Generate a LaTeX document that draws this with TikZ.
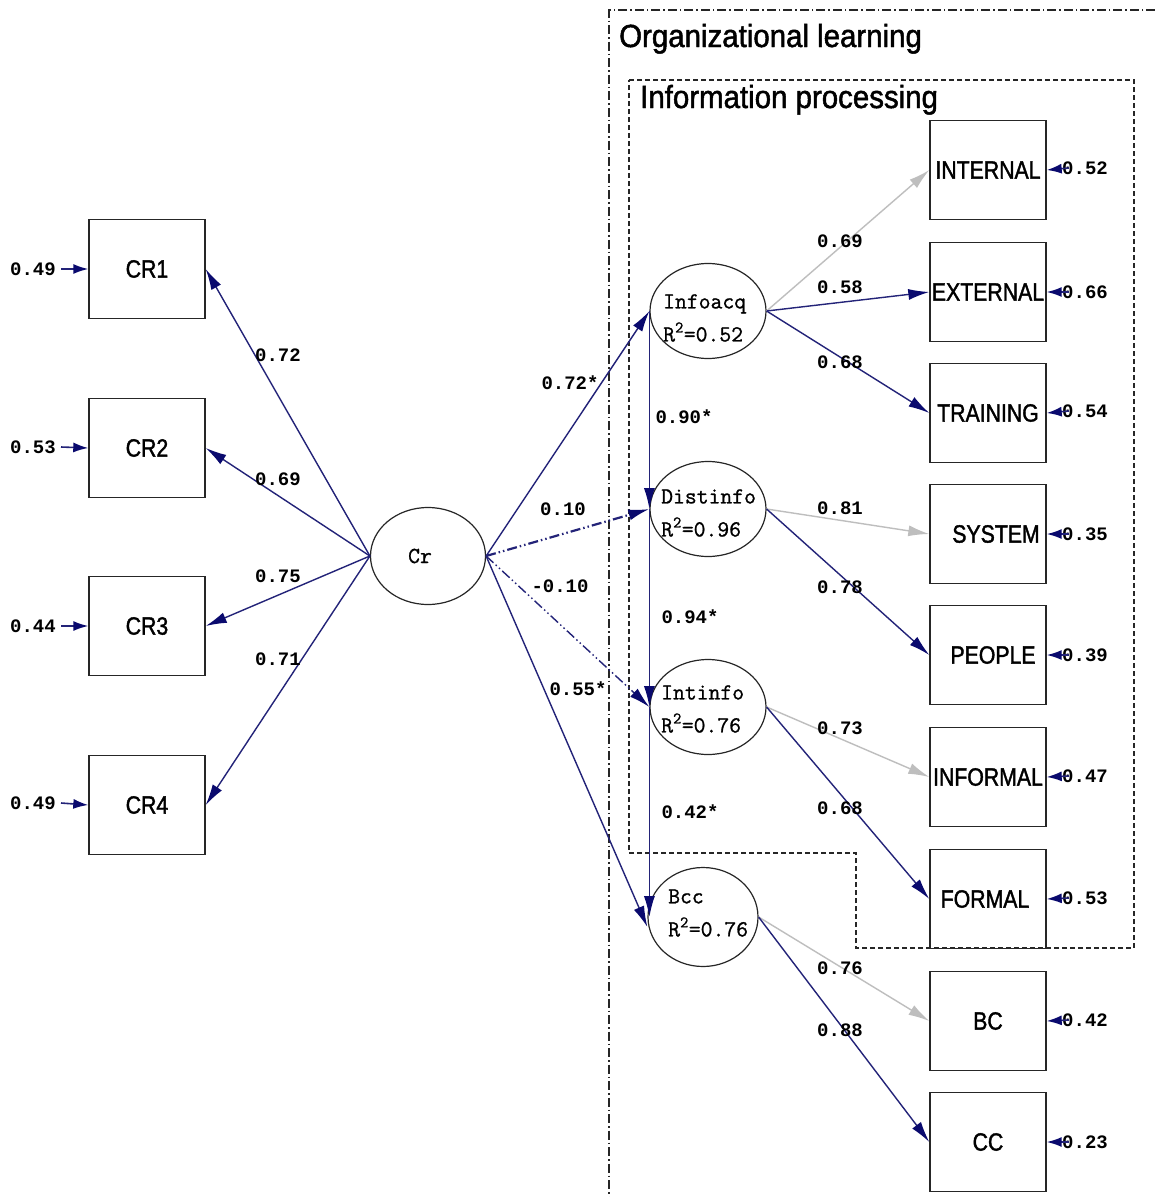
\documentclass[tikz,border=0pt]{standalone}
\usepackage{fontspec}
\newfontfamily\boxfont[FakeStretch=0.85,FakeBold=1.5]{Liberation Sans}
\newfontfamily\titlefont[FakeStretch=0.92,FakeBold=1.5]{Liberation Sans}
\newfontfamily\numfont{Liberation Mono}
\newfontfamily\elfont[FakeBold=1]{Latin Modern Mono}
\usetikzlibrary{shapes.geometric,arrows.meta}
\definecolor{navyln}{RGB}{35,35,120}
\definecolor{navytip}{RGB}{10,10,110}
\definecolor{grayln}{RGB}{190,190,190}
\tikzset{
  obs/.style={draw=black!85, line width=1.4pt, minimum width=116pt, minimum height=99pt, inner sep=0pt, font=\boxfont\fontsize{25}{30}\selectfont},
  lat/.style={draw=black!85, line width=1.2pt, ellipse, minimum width=116pt, minimum height=95pt, inner sep=0pt},
  eltxt/.style={font=\elfont\fontsize{23}{33}\selectfont, align=left, inner sep=0pt, anchor=west},
  num/.style={font=\numfont\bfseries\fontsize{19}{20}\selectfont, inner sep=1pt},
  navyarr/.style={navyln, line width=1.4pt, -{Latex[length=21pt,width=11pt,color=navytip]}},
  grayarr/.style={grayln, line width=1.4pt, -{Latex[length=21pt,width=11pt]}},
  errarr/.style={navyln, line width=1.6pt, -{Latex[length=15pt,width=10pt,color=navytip]}},
  dddash/.style={dash pattern=on 10pt off 3pt on 1.5pt off 3pt on 1.5pt off 3pt},
}
\begin{document}
\begin{tikzpicture}[x=1pt,y=-1pt]
\useasboundingbox (0,0) rectangle (1155,1197);
\fill[white] (0,0) rectangle (1155,1197);

% group frames
\draw[black!85, line width=1.1pt, dash pattern=on 9pt off 3pt on 1.5pt off 3pt] (1155,10) -- (609,10) -- (609,1197);
\draw[black!85, line width=1.1pt, dash pattern=on 5pt off 3pt] (629,80) -- (1134,80) -- (1134,948) -- (856,948) -- (856,853) -- (629,853) -- cycle;
\node[font=\titlefont\fontsize{32}{36}\selectfont, anchor=base west, inner sep=0pt] (tol) at (619,47) {Organizational learning};
\node[font=\titlefont\fontsize{32}{36}\selectfont, anchor=base west, inner sep=0pt] (tip) at (640,108) {Information processing};

% left observed
\node[obs] (cr1) at (147,269) {CR1};
\node[obs] (cr2) at (147,448) {CR2};
\node[obs] (cr3) at (147,626) {CR3};
\node[obs] (cr4) at (147,805) {CR4};

% latents
\node[lat, minimum width=115pt, minimum height=97pt] (cr) at (428,556) {};
\node[font=\elfont\fontsize{23}{26}\selectfont, inner sep=0pt] (crt) at (420,556) {Cr};
\node[lat] (ia) at (708,311) {};
\node[lat] (di) at (708,509) {};
\node[lat] (ii) at (708,707) {};
\node[lat, minimum width=110pt, minimum height=99pt] (bc) at (703,917) {};
\node[eltxt] (iat) at (663,318) {Infoacq\\R\textsuperscript{2}=0.52};
\node[eltxt] (dit) at (661,513) {Distinfo\\R\textsuperscript{2}=0.96};
\node[eltxt] (iit) at (661,709) {Intinfo\\R\textsuperscript{2}=0.76};
\node[eltxt] (bct) at (668,913) {Bcc\\R\textsuperscript{2}=0.76};

% right observed
\node[obs] (int) at (988,170) {INTERNAL};
\node[obs] (ext) at (988,292) {EXTERNAL};
\node[obs] (trn) at (988,413) {TRAINING};
\node[obs] (sys) at (988,534) {\hspace*{16pt}SYSTEM};
\node[obs] (peo) at (988,655) {\hspace*{10pt}PEOPLE};
\node[obs] (inf) at (988,777) {INFORMAL};
\node[obs] (frm) at (988,899) {\hspace*{-6pt}FORMAL};
\node[obs] (bcb) at (988,1021) {BC};
\node[obs] (ccb) at (988,1142) {CC};

% Cr to CR indicators
\draw[navyarr] (cr.west) -- (cr1.east);
\draw[navyarr] (cr.west) -- (cr2.east);
\draw[navyarr] (cr.west) -- (cr3.east);
\draw[navyarr] (cr.west) -- (cr4.east);
\node[num] (l1) at (278,355) {0.72};
\node[num] (l2) at (278,479) {0.69};
\node[num] (l3) at (278,576) {0.75};
\node[num] (l4) at (278,659) {0.71};

% left errors
\node[num] (e1) at (33,269) {0.49};
\node[num] (e2) at (33,447) {0.53};
\node[num] (e3) at (33,626) {0.44};
\node[num] (e4) at (33,803) {0.49};
\draw[errarr] ([xshift=4pt]e1.east) -- (cr1.west);
\draw[errarr] ([xshift=4pt]e2.east) -- (cr2.west);
\draw[errarr] ([xshift=4pt]e3.east) -- (cr3.west);
\draw[errarr] ([xshift=4pt]e4.east) -- (cr4.west);

% structural paths
\draw[navyarr] (cr.east) -- (ia.west);
\draw[navyarr, line width=2.2pt, dddash] (cr.east) -- (di.west);
\draw[navyarr, dddash] (cr.east) -- (ii.west);
\draw[navyarr] (cr.east) -- ([yshift=-10pt]bc.west);
\draw[navyarr] (ia.west) -- (di.west);
\draw[navyarr] (di.west) -- (ii.west);
\draw[navyarr] (ii.west) -- (ii.west |- bc.west) coordinate (bcin);
\node[num] (s1) at (570,383) {0.72*};
\node[num] (s2) at (563,509) {0.10};
\node[num] (s3) at (560,586) {-0.10};
\node[num] (s4) at (578,689) {0.55*};
\node[num] (s5) at (684,417) {0.90*};
\node[num] (s6) at (690,617) {0.94*};
\node[num] (s7) at (690,812) {0.42*};

% measurement paths
\draw[grayarr] (ia.east) -- (int.west);
\draw[navyarr] (ia.east) -- (ext.west);
\draw[navyarr] (ia.east) -- (trn.west);
\draw[grayarr] (di.east) -- (sys.west);
\draw[navyarr] (di.east) -- (peo.west);
\draw[grayarr] (ii.east) -- (inf.west);
\draw[navyarr] (ii.east) -- (frm.west);
\draw[grayarr] (bc.east) -- (bcb.west);
\draw[navyarr] (bc.east) -- (ccb.west);
\node[num] (m1) at (840,241) {0.69};
\node[num] (m2) at (840,287) {0.58};
\node[num] (m3) at (840,362) {0.68};
\node[num] (m4) at (840,508) {0.81};
\node[num] (m5) at (840,587) {0.78};
\node[num] (m6) at (840,728) {0.73};
\node[num] (m7) at (840,808) {0.68};
\node[num] (m8) at (840,968) {0.76};
\node[num] (m9) at (840,1030) {0.88};

% right errors
\node[num] (r1) at (1085,168) {0.52};
\node[num] (r2) at (1085,292) {0.66};
\node[num] (r3) at (1085,411) {0.54};
\node[num] (r4) at (1085,534) {0.35};
\node[num] (r5) at (1085,655) {0.39};
\node[num] (r6) at (1085,776) {0.47};
\node[num] (r7) at (1085,898) {0.53};
\node[num] (r8) at (1085,1020) {0.42};
\node[num] (r9) at (1085,1142) {0.23};
\draw[errarr] ([xshift=8pt]r1.west) -- (int.east);
\draw[errarr] ([xshift=8pt]r2.west) -- (ext.east);
\draw[errarr] ([xshift=8pt]r3.west) -- (trn.east);
\draw[errarr] ([xshift=8pt]r4.west) -- (sys.east);
\draw[errarr] ([xshift=8pt]r5.west) -- (peo.east);
\draw[errarr] ([xshift=8pt]r6.west) -- (inf.east);
\draw[errarr] ([xshift=8pt]r7.west) -- (frm.east);
\draw[errarr] ([xshift=8pt]r8.west) -- (bcb.east);
\draw[errarr] ([xshift=8pt]r9.west) -- (ccb.east);
\end{tikzpicture}
\end{document}
